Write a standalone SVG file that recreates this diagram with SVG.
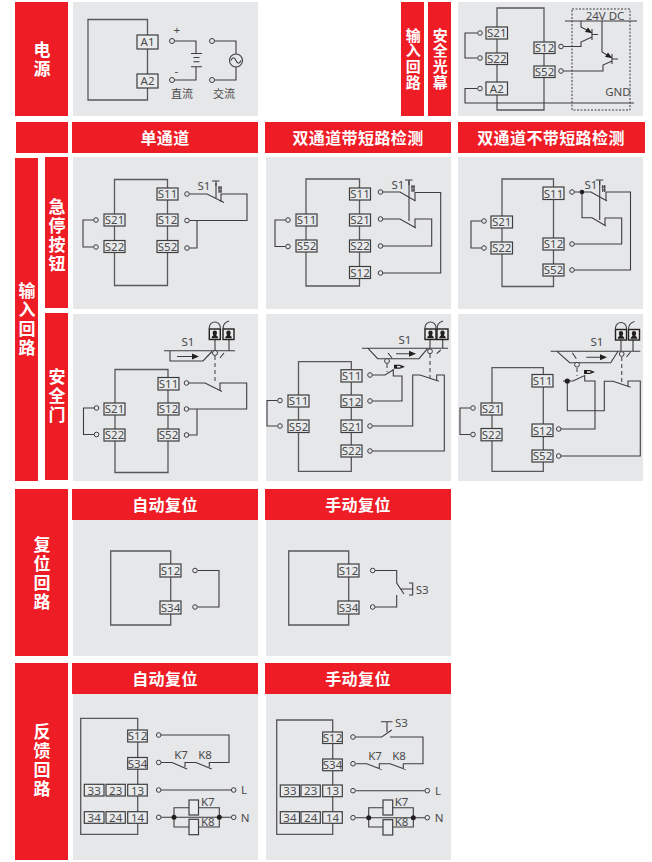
<svg xmlns="http://www.w3.org/2000/svg" xmlns:xlink="http://www.w3.org/1999/xlink" width="652" height="862" viewBox="0 0 652 862">
<style>
.red{fill:#EE1C25}
.pan{fill:#E6E7E8}
.h{font:700 16px "Noto Sans CJK SC","Noto Sans",sans-serif;fill:#fff;text-anchor:middle;letter-spacing:.4px}
.v{font:700 17px "Noto Sans CJK SC","Noto Sans",sans-serif;fill:#fff;text-anchor:middle;writing-mode:vertical-rl;letter-spacing:2px}
.v2{font-size:15px;letter-spacing:.8px}
.w{fill:none;stroke:#3d3d3f;stroke-width:1.1}
.b{fill:none;stroke:#58585a;stroke-width:1.3}
.d{fill:none;stroke:#58585a;stroke-width:1.2;stroke-dasharray:4 3}
.o{fill:#E6E7E8;stroke:#3d3d3f;stroke-width:1}
.k{fill:#231F20}
.tr{fill:#E9EAEB;stroke:#3d3d3f;stroke-width:1.2}
.lk{fill:#E9EAEB;stroke:#231F20;stroke-width:1.4}
.t{font:11.5px "Noto Sans","Liberation Sans",sans-serif;fill:#4a4a4c;text-anchor:middle}
.l{font:11.5px "Noto Sans","Liberation Sans",sans-serif;fill:#4a4a4c}
.c{font:11px "Noto Sans CJK SC","Noto Sans",sans-serif;fill:#4a4a4c;text-anchor:middle}
</style>
<defs>
<g id="estop"><path class="w" d="M-4,-2H3.500M0,-2V3M2,5H6M2.500,8H6M3,3V10M5,3V10"/></g>
<g id="lockL"><rect class="lk" x="0" y="0" width="11" height="10.500"/><path class="w" d="M0,0V-1.500A5.500,5.500 0 0 1 11,-1.500V0"/><path class="k" d="M5.500,1.500a2.200,2.200 0 0 1 2.200,2.200c0,1.200-.6,1.800-.8,2.500l1.800,1.800v1.300H2.300V8l1.800-1.800c-.2-.7-.8-1.300-.8-2.500a2.200,2.200 0 0 1 2.200-2.200z"/></g>
<g id="lockR"><rect class="lk" x="0" y="0" width="11" height="10.500"/><path class="w" d="M0,0C0,-4 2,-7 6,-8"/><path class="k" d="M5.500,1.500a2.200,2.200 0 0 1 2.200,2.200c0,1.200-.6,1.800-.8,2.500l1.800,1.800v1.300H2.300V8l1.800-1.800c-.2-.7-.8-1.300-.8-2.500a2.200,2.200 0 0 1 2.200-2.200z"/></g>
<g id="act"><path class="k" d="M0,-2H6L11,0L6,2H0Z"/><path fill="#E6E7E8" d="M3,-.8H6.500V.8H3Z"/></g>
</defs>

<g id="bands">
<rect class="red" x="15" y="2" width="53" height="114"/>
<rect class="red" x="401" y="2" width="23" height="114"/>
<rect class="red" x="428" y="2" width="23" height="114"/>
<rect class="red" x="16" y="122" width="52" height="31"/>
<rect class="red" x="72" y="122" width="186" height="31"/>
<rect class="red" x="265" y="122" width="186" height="31"/>
<rect class="red" x="458" y="122" width="187" height="31"/>
<rect class="red" x="15" y="158" width="23" height="323"/>
<rect class="red" x="45" y="157" width="23" height="151"/>
<rect class="red" x="45" y="313" width="23" height="167"/>
<rect class="red" x="15" y="489" width="53" height="167"/>
<rect class="red" x="72" y="489" width="186" height="31"/>
<rect class="red" x="265" y="489" width="186" height="31"/>
<rect class="red" x="15" y="663" width="53" height="197"/>
<rect class="red" x="72" y="663" width="186" height="31"/>
<rect class="red" x="265" y="663" width="186" height="31"/>
<rect class="pan" x="73" y="2" width="185" height="114"/>
<rect class="pan" x="458" y="2" width="185" height="114"/>
<rect class="pan" x="73" y="157" width="185" height="152"/>
<rect class="pan" x="266" y="157" width="185" height="152"/>
<rect class="pan" x="458" y="157" width="185" height="152"/>
<rect class="pan" x="73" y="314" width="185" height="167"/>
<rect class="pan" x="266" y="314" width="185" height="167"/>
<rect class="pan" x="458" y="314" width="185" height="167"/>
<rect class="pan" x="73" y="520" width="185" height="136"/>
<rect class="pan" x="266" y="520" width="185" height="136"/>
<rect class="pan" x="73" y="694" width="185" height="166"/>
<rect class="pan" x="266" y="694" width="185" height="166"/>
</g>
<g id="labels">
<text class="v" x="42" y="60">电源</text>
<text class="v v2" x="413.200" y="59">输入回路</text>
<text class="v v2" x="440.200" y="59">安全光幕</text>
<text class="v" x="27" y="320">输入回路</text>
<text class="v" x="57" y="236">急停按钮</text>
<text class="v" x="57" y="397">安全门</text>
<text class="v" x="42" y="574">复位回路</text>
<text class="v" x="42" y="761">反馈回路</text>
<text class="h" x="165" y="144">单通道</text>
<text class="h" x="358" y="144">双通道带短路检测</text>
<text class="h" x="551" y="144">双通道不带短路检测</text>
<text class="h" x="165" y="511">自动复位</text>
<text class="h" x="358" y="511">手动复位</text>
<text class="h" x="165" y="685">自动复位</text>
<text class="h" x="358" y="685">手动复位</text>
</g>

<g id="power">
<path class="b" d="M147.500,19.500H88V100H147.500Z"/>
<g id="connectors-power">
<path class="w" d="M174.500,41H196V53.500M174.500,80H196V66.700M191,53.500H202M193.500,57.500H199.500M193.500,61.700H199.500M191,66.700H202M214.500,41H236V54M214.500,80H236V67"/>
<path class="w" d="M231,60.500q2.500,-5.500 5,0t5,0"/>
<circle class="w" cx="236" cy="60.500" r="6.500"/>
<circle class="o" cx="172" cy="41" r="2.500"/><circle class="o" cx="172" cy="80" r="2.500"/><circle class="o" cx="212" cy="41" r="2.500"/><circle class="o" cx="212" cy="80" r="2.500"/>
</g>
<g id="pw-A1"><rect class="tr" x="137" y="35" width="21" height="14"/><text class="t" x="147.500" y="46">A1</text></g>
<g id="pw-A2"><rect class="tr" x="137" y="74" width="21" height="14"/><text class="t" x="147.500" y="85">A2</text></g>
<text class="l" x="173.500" y="34">+</text><text class="l" x="174.500" y="75">-</text>
<text class="c" x="182" y="98">直流</text><text class="c" x="224" y="98">交流</text>
</g>

<g id="curtain">
<path class="b" d="M497,8H544V110H497Z"/>
<g id="connectors-curtain">
<path class="w" d="M477.500,33H465V58H477.500M477.500,88.500H465V103H634M563.500,46.500H581V42L592,37M563.500,71H603V65L612,61M565,21H637M581,21V27L592,33M592,29V40M592,34.500H598M602,21V52L612,58M612,54V64M612,59H618"/>
<path class="k" d="M592,33L585,32L588,27.500ZM612,58L605,57L608,52.500Z"/>
<rect x="572" y="9" width="58" height="101" fill="none" stroke="#3d3d3f" stroke-dasharray="2 1.500"/>
<circle class="o" cx="480" cy="33" r="2.300"/><circle class="o" cx="480" cy="58" r="2.300"/><circle class="o" cx="480" cy="88.500" r="2.300"/><circle class="o" cx="561" cy="46.500" r="2.300"/><circle class="o" cx="561" cy="71" r="2.300"/>
</g>
<g id="lc-S21"><rect class="tr" x="486" y="27" width="21.500" height="12"/><text class="t" x="496.800" y="37.200">S21</text></g>
<g id="lc-S22"><rect class="tr" x="486" y="53" width="21.500" height="11.500"/><text class="t" x="496.800" y="63">S22</text></g>
<g id="lc-A2"><rect class="tr" x="486" y="82" width="21.500" height="13"/><text class="t" x="496.800" y="92.700">A2</text></g>
<g id="lc-S12"><rect class="tr" x="534" y="42" width="21" height="11.500"/><text class="t" x="544.500" y="52">S12</text></g>
<g id="lc-S52"><rect class="tr" x="534" y="66" width="21" height="11.500"/><text class="t" x="544.500" y="76">S52</text></g>
<text class="t" x="605" y="19.500">24V DC</text><text class="t" x="618" y="96">GND</text>
</g>

<g id="estop1">
<path class="b" d="M114.500,179.500H167.500V285.500H114.500Z"/>
<g id="connectors-estop1">
<path class="w" d="M93.500,220H83V247H93.500M189.500,194H207L224,202.500M221,202V194H247V220.500H189.500M197,220.500V248H189.500"/>
<circle class="o" cx="96" cy="220" r="2.300"/><circle class="o" cx="96" cy="247" r="2.300"/><circle class="o" cx="187" cy="194" r="2.300"/><circle class="o" cx="187" cy="220.500" r="2.300"/><circle class="o" cx="187" cy="248" r="2.300"/>
<path class="w" d="M216,183V198"/><use xlink:href="#estop" href="#estop" x="216" y="183"/>
</g>
<g id="e1-S21"><rect class="tr" x="104" y="214" width="21" height="12"/><text class="t" x="114.500" y="224.200">S21</text></g>
<g id="e1-S22"><rect class="tr" x="104" y="240.500" width="21" height="12"/><text class="t" x="114.500" y="250.700">S22</text></g>
<g id="e1-S11"><rect class="tr" x="157" y="188" width="21" height="12"/><text class="t" x="167.500" y="198.200">S11</text></g>
<g id="e1-S12"><rect class="tr" x="157" y="214" width="21" height="12"/><text class="t" x="167.500" y="224.200">S12</text></g>
<g id="e1-S52"><rect class="tr" x="157" y="240.500" width="21" height="12"/><text class="t" x="167.500" y="250.700">S52</text></g>
<text class="t" x="204" y="190">S1</text>
</g>

<g id="estop2">
<path class="b" d="M306,179H359.500V286H306Z"/>
<g id="connectors-estop2">
<path class="w" d="M285.500,220H275V246.500H285.500M383,192H400L415.500,201M415,201V192.500H440.700V273H383M383,219H400L416,228M415,228V219H431.700V246H383"/>
<circle class="o" cx="288" cy="220" r="2.300"/><circle class="o" cx="288" cy="246.500" r="2.300"/><circle class="o" cx="380.500" cy="192" r="2.300"/><circle class="o" cx="380.500" cy="219" r="2.300"/><circle class="o" cx="380.500" cy="246" r="2.300"/><circle class="o" cx="380.500" cy="273" r="2.300"/>
<path class="w" d="M409,181V221"/><use xlink:href="#estop" href="#estop" x="409" y="182"/>
</g>
<g id="e2-S11L"><rect class="tr" x="296" y="214" width="21" height="12"/><text class="t" x="306.500" y="224.200">S11</text></g>
<g id="e2-S52"><rect class="tr" x="296" y="240" width="21" height="12"/><text class="t" x="306.500" y="250.200">S52</text></g>
<g id="e2-S11"><rect class="tr" x="349.500" y="188" width="21" height="12"/><text class="t" x="360" y="198.200">S11</text></g>
<g id="e2-S21"><rect class="tr" x="349.500" y="214" width="21" height="12"/><text class="t" x="360" y="224.200">S21</text></g>
<g id="e2-S22"><rect class="tr" x="349.500" y="240" width="21" height="12"/><text class="t" x="360" y="250.200">S22</text></g>
<g id="e2-S12"><rect class="tr" x="349.500" y="266.500" width="21" height="12"/><text class="t" x="360" y="276.700">S12</text></g>
<text class="t" x="398" y="189">S1</text>
</g>

<g id="estop3">
<path class="b" d="M502,179H553.500V286.500H502Z"/>
<g id="connectors-estop3">
<path class="w" d="M481.500,221H471V248H481.500M574.500,192H591L607,201M606,201V192H630.500V270H574.500M582,192V217.700H592L606,226M605,226V218H621.700V244H574.500"/>
<circle class="k" cx="582" cy="192" r="2.300"/>
<circle class="o" cx="484" cy="221" r="2.300"/><circle class="o" cx="484" cy="248" r="2.300"/><circle class="o" cx="572" cy="192" r="2.300"/><circle class="o" cx="572" cy="244" r="2.300"/><circle class="o" cx="572" cy="270" r="2.300"/>
<path class="w" d="M599.700,181V220"/><use xlink:href="#estop" href="#estop" x="599.700" y="182"/>
</g>
<g id="e3-S21"><rect class="tr" x="491" y="216" width="21.500" height="12"/><text class="t" x="501.700" y="226.200">S21</text></g>
<g id="e3-S22"><rect class="tr" x="491" y="242" width="21.500" height="12"/><text class="t" x="501.700" y="252.200">S22</text></g>
<g id="e3-S11"><rect class="tr" x="543" y="187" width="21" height="12.500"/><text class="t" x="553.500" y="197.500">S11</text></g>
<g id="e3-S12"><rect class="tr" x="543" y="238" width="21" height="12"/><text class="t" x="553.500" y="248.200">S12</text></g>
<g id="e3-S52"><rect class="tr" x="543" y="264" width="21" height="12"/><text class="t" x="553.500" y="274.200">S52</text></g>
<text class="t" x="591" y="189">S1</text>
</g>

<g id="door1">
<path class="b" d="M115,369.500H168V472.500H115Z"/>
<g id="connectors-door1">
<path class="w" d="M94,408H83.500V434.500H94M189,383H205L222,391.500M220,391V383H246.700V409H189M197,409V435H189"/>
<path class="w" d="M164,350.700H235M170,350.700V361H203L212,351.500M177,356.500H194M215,339V350.500M229,339V350.700M220,358L224,353"/>
<path class="k" d="M199,356.500L192,353.500V359.500Z"/>
<path class="d" d="M215,356V383"/>
<circle class="o" cx="215" cy="353" r="2.500"/>
<circle class="o" cx="96.500" cy="408" r="2.300"/><circle class="o" cx="96.500" cy="434.500" r="2.300"/><circle class="o" cx="186.500" cy="383" r="2.300"/><circle class="o" cx="186.500" cy="409" r="2.300"/><circle class="o" cx="186.500" cy="435" r="2.300"/>
</g>
<use xlink:href="#lockL" href="#lockL" x="209.300" y="329"/><use xlink:href="#lockR" href="#lockR" x="223" y="329"/>
<g id="d1-S21"><rect class="tr" x="104" y="403" width="21" height="12"/><text class="t" x="114.500" y="413.200">S21</text></g>
<g id="d1-S22"><rect class="tr" x="104" y="429" width="21" height="12"/><text class="t" x="114.500" y="439.200">S22</text></g>
<g id="d1-S11"><rect class="tr" x="158" y="377.500" width="21" height="12.500"/><text class="t" x="168.500" y="388">S11</text></g>
<g id="d1-S12"><rect class="tr" x="158" y="403" width="21" height="12"/><text class="t" x="168.500" y="413.200">S12</text></g>
<g id="d1-S52"><rect class="tr" x="158" y="429" width="21" height="12"/><text class="t" x="168.500" y="439.200">S52</text></g>
<text class="t" x="188" y="345.500">S1</text>
</g>

<g id="door2">
<path class="b" d="M298.500,361.700H351.300V471.300H298.500Z"/>
<g id="connectors-door2">
<path class="w" d="M277.500,400.500H267V426H277.500M372.500,375H385L393,370M393.300,369V376H402V401H372.500M372.500,426H412.700V375H420L439,381.300M436.700,380V375H444.300V451H372.500"/>
<path class="w" d="M362,348.300H448M368,348.300L377.700,358.700H419L427.700,348.300M396,353.700H411M430,339V348.300M442.700,339V348.300M436.700,353.700L440.700,350M388,353L392,358"/>
<path class="k" d="M416,353.700L409,350.700V356.700Z"/>
<path class="d" d="M430,354V380M387,364V372"/>
<circle class="o" cx="430" cy="351.300" r="2.400"/><circle class="o" cx="387" cy="361" r="2.400"/>
<use xlink:href="#act" href="#act" x="394" y="366.700"/>
<circle class="o" cx="280" cy="400.500" r="2.300"/><circle class="o" cx="280" cy="426" r="2.300"/><circle class="o" cx="370" cy="375" r="2.300"/><circle class="o" cx="370" cy="401" r="2.300"/><circle class="o" cx="370" cy="426" r="2.300"/><circle class="o" cx="370" cy="451" r="2.300"/>
</g>
<use xlink:href="#lockL" href="#lockL" x="425" y="329"/><use xlink:href="#lockR" href="#lockR" x="437" y="329"/>
<g id="d2-S11L"><rect class="tr" x="288" y="395" width="21" height="12"/><text class="t" x="298.500" y="405.200">S11</text></g>
<g id="d2-S52"><rect class="tr" x="288" y="420" width="21" height="12.500"/><text class="t" x="298.500" y="430.500">S52</text></g>
<g id="d2-S11"><rect class="tr" x="341" y="369.700" width="21" height="12.300"/><text class="t" x="351.500" y="380">S11</text></g>
<g id="d2-S12"><rect class="tr" x="341" y="395" width="21" height="12.300"/><text class="t" x="351.500" y="405.500">S12</text></g>
<g id="d2-S21"><rect class="tr" x="341" y="420" width="21" height="12.500"/><text class="t" x="351.500" y="430.500">S21</text></g>
<g id="d2-S22"><rect class="tr" x="341" y="445" width="21" height="12"/><text class="t" x="351.500" y="455.200">S22</text></g>
<text class="t" x="405" y="343.500">S1</text>
</g>

<g id="door3">
<path class="b" d="M492,367.700H543.300V471.300H492Z"/>
<g id="connectors-door3">
<path class="w" d="M470.500,408H460V434.500H470.500M561,429H595V381H584.700V375.500L573,381H563M567.300,381V410.700H604.300V381.300H613L630.700,387.300M628,386V381H640.300V456H561"/>
<path class="w" d="M550.700,351.300H640.300M557,351.300L569.700,362.700H610.700L618,351.300M586.300,357.300H602M621,340V351M633,340V351.300M572.300,352.700L576.300,358.700M626.500,357L630.500,352"/>
<path class="k" d="M607,357.300L600,354.300V360.300Z"/>
<path class="d" d="M621.700,357V385M577,368V376"/>
<circle class="k" cx="567.300" cy="381" r="2.600"/>
<circle class="o" cx="621.700" cy="354" r="2.400"/><circle class="o" cx="577" cy="364.700" r="2.400"/>
<use xlink:href="#act" href="#act" x="584" y="372"/>
<circle class="o" cx="473" cy="408" r="2.300"/><circle class="o" cx="473" cy="434.500" r="2.300"/><circle class="o" cx="558.700" cy="429" r="2.300"/><circle class="o" cx="558.700" cy="456" r="2.300"/>
</g>
<use xlink:href="#lockL" href="#lockL" x="615.500" y="329.500"/><use xlink:href="#lockR" href="#lockR" x="628.500" y="329.500"/>
<g id="d3-S21"><rect class="tr" x="481" y="403" width="21" height="12"/><text class="t" x="491.500" y="413.200">S21</text></g>
<g id="d3-S22"><rect class="tr" x="481" y="428.500" width="21" height="12.300"/><text class="t" x="491.500" y="439">S22</text></g>
<g id="d3-S11"><rect class="tr" x="532" y="374.500" width="21" height="12.500"/><text class="t" x="542.500" y="385">S11</text></g>
<g id="d3-S12"><rect class="tr" x="532" y="424" width="21" height="12.500"/><text class="t" x="542.500" y="434.500">S12</text></g>
<g id="d3-S52"><rect class="tr" x="532" y="450" width="21" height="12"/><text class="t" x="542.500" y="460.200">S52</text></g>
<text class="t" x="597" y="346">S1</text>
</g>

<g id="reset1">
<path class="b" d="M170.700,551H110.700V625H170.700Z"/>
<g id="connectors-reset1">
<path class="w" d="M197.500,570.500H219V607H197.500"/>
<circle class="o" cx="195" cy="570.500" r="2.300"/><circle class="o" cx="195" cy="607" r="2.300"/>
</g>
<g id="r1-S12"><rect class="tr" x="160" y="564" width="21" height="13"/><text class="t" x="170.500" y="574.700">S12</text></g>
<g id="r1-S34"><rect class="tr" x="160" y="601" width="21" height="13"/><text class="t" x="170.500" y="611.700">S34</text></g>
</g>
<g id="reset2">
<path class="b" d="M348.700,551H288.700V625H348.700Z"/>
<g id="connectors-reset2">
<path class="w" d="M375,570.500H396.700V583L404,594M396.700,595V607H375M400,589H412.700M409,583H412.700V595H409"/>
<circle class="o" cx="372.700" cy="570.500" r="2.300"/><circle class="o" cx="372.700" cy="607" r="2.300"/>
</g>
<g id="r2-S12"><rect class="tr" x="338" y="564" width="21" height="13"/><text class="t" x="348.500" y="574.700">S12</text></g>
<g id="r2-S34"><rect class="tr" x="338" y="601" width="21" height="13"/><text class="t" x="348.500" y="611.700">S34</text></g>
<text class="l" x="415.700" y="593.500">S3</text>
</g>

<g id="feedback1">
<path class="b" d="M137.700,718.300H80.700V834.300H137.700Z"/>
<g id="connectors-feedback1">
<path class="w" d="M161,735H229V762.500H209.300V767M161,762.500H172L187,769M185,767V762.500H196L211.700,769"/>
<path class="w" d="M161,790H231.300M161,817.300H231.300M174,817.300V807.700H219.300V827H174Z"/>
<rect class="tr" x="189" y="800" width="9.500" height="15"/><rect class="tr" x="189" y="819.300" width="9.500" height="15.400"/>
<circle class="k" cx="174" cy="817.300" r="2.500"/><circle class="k" cx="219.300" cy="817.300" r="2.500"/>
<circle class="o" cx="158.700" cy="735" r="2.300"/><circle class="o" cx="158.700" cy="762.500" r="2.300"/><circle class="o" cx="158.700" cy="790" r="2.300"/><circle class="o" cx="158.700" cy="817.300" r="2.300"/><circle class="o" cx="233.700" cy="790" r="2.300"/><circle class="o" cx="233.700" cy="817.300" r="2.300"/>
</g>
<g id="f1-S12"><rect class="tr" x="127.700" y="730" width="19.600" height="12"/><text class="t" x="137.500" y="740.200">S12</text></g>
<g id="f1-S34"><rect class="tr" x="127.700" y="757.500" width="19.600" height="11.700"/><text class="t" x="137.500" y="767.500">S34</text></g>
<g id="f1-33"><rect class="tr" x="84.300" y="784.300" width="19.700" height="11.700"/><text class="t" x="94.200" y="794.500">33</text></g>
<g id="f1-23"><rect class="tr" x="106" y="784.300" width="19.300" height="11.700"/><text class="t" x="115.700" y="794.500">23</text></g>
<g id="f1-13"><rect class="tr" x="127.700" y="784.300" width="19.600" height="11.700"/><text class="t" x="137.500" y="794.500">13</text></g>
<g id="f1-34"><rect class="tr" x="84.300" y="811.700" width="19.700" height="11.600"/><text class="t" x="94.200" y="821.800">34</text></g>
<g id="f1-24"><rect class="tr" x="106" y="811.700" width="19.300" height="11.600"/><text class="t" x="115.700" y="821.800">24</text></g>
<g id="f1-14"><rect class="tr" x="127.700" y="811.700" width="19.600" height="11.600"/><text class="t" x="137.500" y="821.800">14</text></g>
<text class="t" x="181" y="759">K7</text><text class="t" x="205" y="759">K8</text>
<text class="l" x="241" y="794">L</text><text class="l" x="240.700" y="821.500">N</text>
<text class="l" x="201" y="806">K7</text><text class="l" x="201" y="826">K8</text>
</g>

<g id="feedback2">
<path class="b" d="M332.700,720H276.700V834.300H332.700Z"/>
<g id="connectors-feedback2">
<path class="w" d="M355.500,737H381.700L391.700,730M390,737H423V763.700H403.300V769M387,721.700V732M381,721.700H392.500M355.500,763.700H366.700L381.700,769.500M379.300,769V763.700H390L405.700,769.500"/>
<path class="w" d="M355.500,790.700H425M355.500,817.700H425M368.700,817.700V807.700H413.300V827H368.700Z"/>
<rect class="tr" x="383" y="800" width="9.700" height="15"/><rect class="tr" x="383" y="819.700" width="9.700" height="15.300"/>
<circle class="k" cx="368.700" cy="817.700" r="2.500"/><circle class="k" cx="413.300" cy="817.700" r="2.500"/>
<circle class="o" cx="353" cy="737" r="2.300"/><circle class="o" cx="353" cy="763.700" r="2.300"/><circle class="o" cx="353" cy="790.700" r="2.300"/><circle class="o" cx="353" cy="817.700" r="2.300"/><circle class="o" cx="427.300" cy="790.700" r="2.300"/><circle class="o" cx="427.300" cy="817.700" r="2.300"/>
</g>
<g id="f2-S12"><rect class="tr" x="322.700" y="732" width="19.600" height="11.500"/><text class="t" x="332.500" y="741.800">S12</text></g>
<g id="f2-S34"><rect class="tr" x="322.700" y="759" width="19.600" height="11.700"/><text class="t" x="332.500" y="769">S34</text></g>
<g id="f2-33"><rect class="tr" x="280.300" y="785" width="19.200" height="11.700"/><text class="t" x="289.900" y="795.300">33</text></g>
<g id="f2-23"><rect class="tr" x="301" y="785" width="19.300" height="11.700"/><text class="t" x="310.700" y="795.300">23</text></g>
<g id="f2-13"><rect class="tr" x="322.700" y="785" width="19.600" height="11.700"/><text class="t" x="332.500" y="795.300">13</text></g>
<g id="f2-34"><rect class="tr" x="280.300" y="811.700" width="19.200" height="11.600"/><text class="t" x="289.900" y="821.800">34</text></g>
<g id="f2-24"><rect class="tr" x="301" y="811.700" width="19.300" height="11.600"/><text class="t" x="310.700" y="821.800">24</text></g>
<g id="f2-14"><rect class="tr" x="322.700" y="811.700" width="19.600" height="11.600"/><text class="t" x="332.500" y="821.800">14</text></g>
<text class="t" x="375" y="760">K7</text><text class="t" x="399" y="760">K8</text>
<text class="l" x="395" y="727">S3</text>
<text class="l" x="435" y="795">L</text><text class="l" x="434.700" y="822">N</text>
<text class="l" x="394.700" y="806">K7</text><text class="l" x="394.700" y="826">K8</text>
</g>
</svg>
